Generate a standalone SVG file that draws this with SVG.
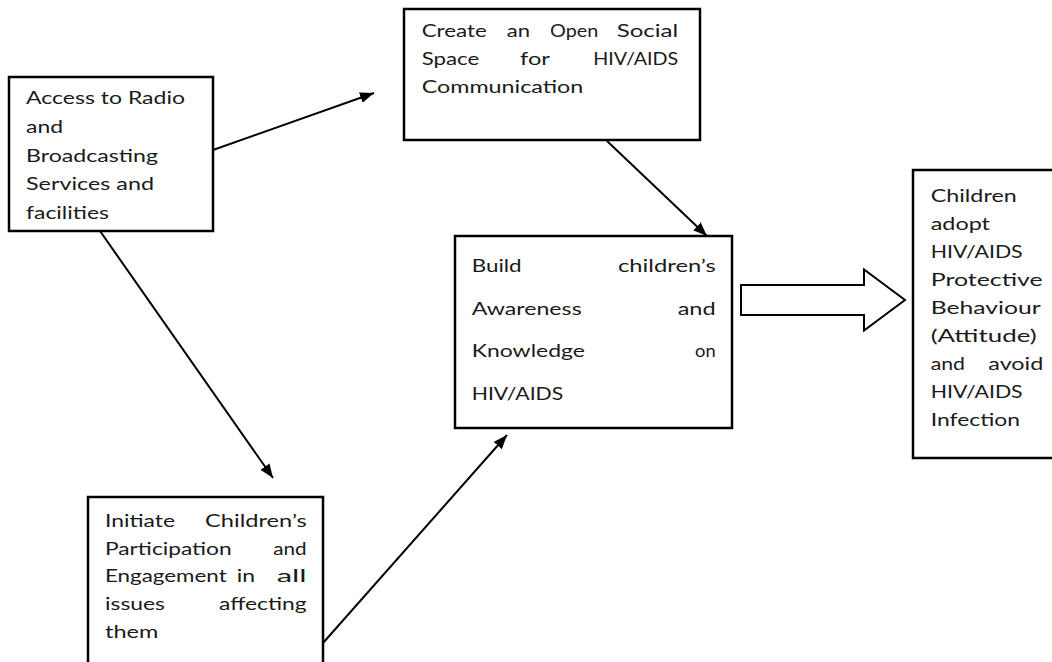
<svg xmlns="http://www.w3.org/2000/svg" width="1052" height="662" viewBox="0 0 1052 662">
<style>
.box{fill:#fff;stroke:#000;stroke-width:2.5}
.t{font-family:Lato,"Liberation Sans",sans-serif;font-size:18px;fill:#1a1a1a}
.c{stroke:#000;stroke-width:2;fill:none}
</style>
<defs>
<marker id="ah" markerUnits="userSpaceOnUse" markerWidth="15" markerHeight="12" refX="14" refY="5.5" orient="auto">
<path d="M0,0 L14,5.5 L0,11 z" fill="#000"/>
</marker>
</defs>
<rect width="1052" height="662" fill="#fff"/>
<g id="connectors">
<line class="c" x1="213" y1="150" x2="374" y2="93" marker-end="url(#ah)"/>
<line class="c" x1="100" y1="231" x2="273" y2="478" marker-end="url(#ah)"/>
<line class="c" x1="607" y1="141" x2="707" y2="236" marker-end="url(#ah)"/>
<line class="c" x1="323" y1="643" x2="507" y2="435" marker-end="url(#ah)"/>
<path id="block-arrow" d="M741,285 L864,285 L864,269.5 L905,300 L864,330.5 L864,315 L741,315 Z" fill="#fff" stroke="#000" stroke-width="2"/>
</g>
<g id="node-access">
<rect class="box" x="9" y="77" width="204" height="154"/>
<text class="t" x="26" y="104" textLength="159" lengthAdjust="spacingAndGlyphs">Access to Radio</text>
<text class="t" x="26" y="133" textLength="37" lengthAdjust="spacingAndGlyphs">and</text>
<text class="t" x="26" y="161.5" textLength="132" lengthAdjust="spacingAndGlyphs">Broadcasting</text>
<text class="t" x="26" y="190" textLength="128" lengthAdjust="spacingAndGlyphs">Services and</text>
<text class="t" x="26" y="218.5" textLength="83" lengthAdjust="spacingAndGlyphs">facilities</text>
</g>
<g id="node-create">
<rect class="box" x="404" y="9" width="296" height="131"/>
<text class="t" x="421.7" y="37" textLength="65" lengthAdjust="spacingAndGlyphs">Create</text>
<text class="t" x="506.7" y="37" textLength="23.3" lengthAdjust="spacingAndGlyphs">an</text>
<text class="t" x="550" y="37" textLength="48.3" lengthAdjust="spacingAndGlyphs">Open</text>
<text class="t" x="616.7" y="37" textLength="61.6" lengthAdjust="spacingAndGlyphs">Social</text>
<text class="t" x="421.7" y="65" textLength="57.6" lengthAdjust="spacingAndGlyphs">Space</text>
<text class="t" x="520" y="65" textLength="30" lengthAdjust="spacingAndGlyphs">for</text>
<text class="t" x="593.3" y="65" textLength="85" lengthAdjust="spacingAndGlyphs">HIV/AIDS</text>
<text class="t" x="421.7" y="93" textLength="161.6" lengthAdjust="spacingAndGlyphs">Communication</text>
</g>
<g id="node-build">
<rect class="box" x="455" y="236" width="277" height="192"/>
<text class="t" x="471.7" y="272" textLength="50" lengthAdjust="spacingAndGlyphs">Build</text>
<text class="t" x="618" y="272" textLength="97.7" lengthAdjust="spacingAndGlyphs">children’s</text>
<text class="t" x="471.7" y="315" textLength="110" lengthAdjust="spacingAndGlyphs">Awareness</text>
<text class="t" x="677.7" y="315" textLength="38" lengthAdjust="spacingAndGlyphs">and</text>
<text class="t" x="471.7" y="357" textLength="113.3" lengthAdjust="spacingAndGlyphs">Knowledge</text>
<text class="t" x="695" y="357" textLength="20.7" lengthAdjust="spacingAndGlyphs">on</text>
<text class="t" x="471.7" y="400" textLength="91.6" lengthAdjust="spacingAndGlyphs">HIV/AIDS</text>
</g>
<g id="node-children">
<rect class="box" x="913" y="170" width="145" height="288"/>
<text class="t" x="930.7" y="202" textLength="86" lengthAdjust="spacingAndGlyphs">Children</text>
<text class="t" x="930.7" y="230" textLength="59.3" lengthAdjust="spacingAndGlyphs">adopt</text>
<text class="t" x="930.7" y="258" textLength="92" lengthAdjust="spacingAndGlyphs">HIV/AIDS</text>
<text class="t" x="930.7" y="286" textLength="112" lengthAdjust="spacingAndGlyphs">Protective</text>
<text class="t" x="930.7" y="314" textLength="110" lengthAdjust="spacingAndGlyphs">Behaviour</text>
<text class="t" x="930.7" y="342" textLength="106" lengthAdjust="spacingAndGlyphs">(Attitude)</text>
<text class="t" x="930.7" y="370" textLength="34.3" lengthAdjust="spacingAndGlyphs">and</text>
<text class="t" x="988.3" y="370" textLength="55" lengthAdjust="spacingAndGlyphs">avoid</text>
<text class="t" x="930.7" y="398" textLength="92" lengthAdjust="spacingAndGlyphs">HIV/AIDS</text>
<text class="t" x="930.7" y="426" textLength="89.3" lengthAdjust="spacingAndGlyphs">Infection</text>
</g>
<g id="node-initiate">
<rect class="box" x="88" y="497" width="235" height="175"/>
<text class="t" x="105" y="527" textLength="70" lengthAdjust="spacingAndGlyphs">Initiate</text>
<text class="t" x="205" y="527" textLength="101.7" lengthAdjust="spacingAndGlyphs">Children’s</text>
<text class="t" x="105" y="554.5" textLength="126.7" lengthAdjust="spacingAndGlyphs">Participation</text>
<text class="t" x="273.3" y="554.5" textLength="33.4" lengthAdjust="spacingAndGlyphs">and</text>
<text class="t" x="105" y="582" textLength="121.7" lengthAdjust="spacingAndGlyphs">Engagement</text>
<text class="t" x="236.7" y="582" textLength="18.3" lengthAdjust="spacingAndGlyphs">in</text>
<text class="t" x="276.7" y="582" textLength="30" lengthAdjust="spacingAndGlyphs">all</text>
<text class="t" x="105" y="610" textLength="60" lengthAdjust="spacingAndGlyphs">issues</text>
<text class="t" x="219" y="610" textLength="87.7" lengthAdjust="spacingAndGlyphs">affecting</text>
<text class="t" x="105" y="638" textLength="53.3" lengthAdjust="spacingAndGlyphs">them</text>
</g>
</svg>
